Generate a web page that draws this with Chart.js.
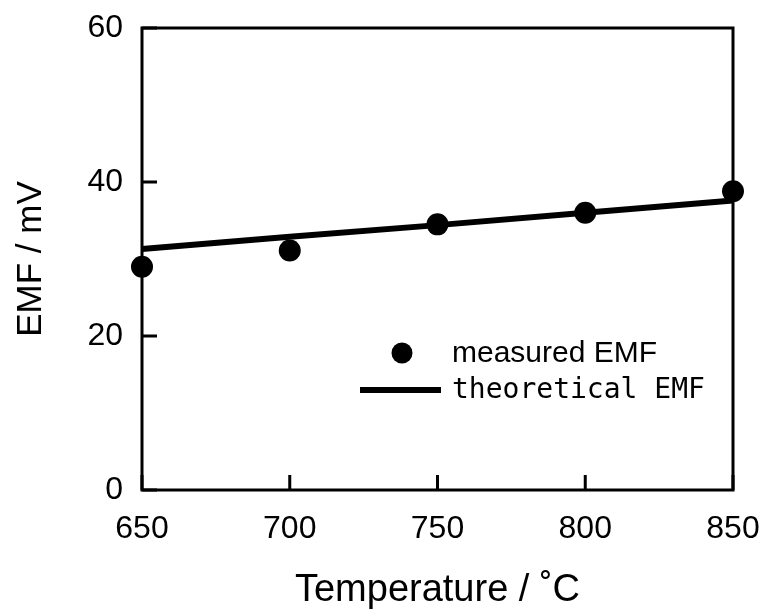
<!DOCTYPE html>
<html>
<head>
<meta charset="utf-8">
<script src="https://cdn.jsdelivr.net/npm/chart.js@4.4.0/dist/chart.umd.min.js"></script>
<style>
html, body { margin: 0; padding: 0; background: #fff; }
</style>
</head>
<body>
<canvas id="chart" width="764" height="614"></canvas>
<script>
// ======================= DATA ==============================
const temps = [650, 700, 750, 800, 850];
const measuredEmf = [29.0, 31.1, 34.5, 36.0, 38.8];
const theoreticalEmf = [31.3, 32.9, 34.4, 36.0, 37.6];
const xTicks = [650, 700, 750, 800, 850];
const yTicks = [0, 20, 40, 60];

const FONT = '"Liberation Sans", Arial, Helvetica, sans-serif';
Chart.defaults.font.family = FONT;
Chart.defaults.color = '#000';

// ======================= PLUGINS ===========================
// box round the plot + short inward ticks
const framePlugin = {
    id: 'frame',
    afterDatasetsDraw(chart) {
        const { ctx, chartArea: a, scales } = chart;
        ctx.save();
        ctx.strokeStyle = '#000';
        ctx.lineWidth = 3;
        ctx.strokeRect(a.left, a.top, a.right - a.left, a.bottom - a.top);
        ctx.beginPath();
        xTicks.forEach(v => {
            const px = scales.x.getPixelForValue(v);
            ctx.moveTo(px, a.bottom);
            ctx.lineTo(px, a.bottom - 15);
        });
        yTicks.forEach(v => {
            const py = scales.y.getPixelForValue(v);
            ctx.moveTo(a.left, py);
            ctx.lineTo(a.left + 15, py);
        });
        ctx.stroke();
        ctx.restore();
    }
};

// legend inside the plot, lower right
const legendPlugin = {
    id: 'innerLegend',
    afterDraw(chart) {
        const ctx = chart.ctx;
        const ds = chart.data.datasets;
        ctx.save();
        ctx.fillStyle = '#000';
        ctx.strokeStyle = '#000';
        ctx.textBaseline = 'middle';

        ctx.beginPath();
        ctx.arc(402, 353, 10.5, 0, Math.PI * 2);
        ctx.fill();
        ctx.font = '30px ' + FONT;
        ctx.fillText(ds[0].label, 452, 354);

        ctx.lineWidth = 6;
        ctx.beginPath();
        ctx.moveTo(360, 390);
        ctx.lineTo(441, 390);
        ctx.stroke();
        ctx.font = '28px "DejaVu Sans Mono", monospace';
        ctx.fillText(ds[1].label, 452, 391);
        ctx.restore();
    }
};

// ======================= CHART =============================
new Chart(document.getElementById('chart'), {
    type: 'scatter',
    data: {
        datasets: [{
            label: 'measured EMF',
            data: temps.map((t, i) => ({ x: t, y: measuredEmf[i] })),
            pointRadius: 11,
            pointBackgroundColor: '#000',
            pointBorderWidth: 0,
            showLine: false,
            clip: false
        }, {
            label: 'theoretical EMF',
            type: 'line',
            data: temps.map((t, i) => ({ x: t, y: theoreticalEmf[i] })),
            borderColor: '#000',
            borderWidth: 6,
            pointRadius: 0,
            tension: 0,
            clip: false
        }]
    },
    options: {
        responsive: false,
        animation: false,
        layout: { padding: { top: 28, right: 31, left: 0, bottom: 0 } },
        plugins: { legend: { display: false }, tooltip: { enabled: false } },
        scales: {
            x: {
                type: 'linear',
                min: 650,
                max: 850,
                afterBuildTicks: s => { s.ticks = xTicks.map(v => ({ value: v })); },
                afterFit: s => { s.height = 124; s.paddingLeft = 0; s.paddingRight = 0; },
                grid: { display: false, drawTicks: false },
                border: { display: false },
                ticks: { font: { size: 32 }, padding: 20, maxRotation: 0, autoSkip: false },
                title: {
                    display: true,
                    text: 'Temperature / ˚C',
                    font: { size: 38 },
                    padding: { top: 0, bottom: 1 }
                }
            },
            y: {
                min: 0,
                max: 60,
                afterBuildTicks: s => { s.ticks = yTicks.map(v => ({ value: v })); },
                afterFit: s => { s.width = 142; s.paddingTop = 0; s.paddingBottom = 0; },
                grid: { display: false, drawTicks: false },
                border: { display: false },
                ticks: { font: { size: 32 }, padding: 19 },
                title: {
                    display: true,
                    text: 'EMF / mV',
                    font: { size: 35 },
                    padding: { top: 10, bottom: 0 }
                }
            }
        }
    },
    plugins: [framePlugin, legendPlugin]
});
</script>
</body>
</html>
